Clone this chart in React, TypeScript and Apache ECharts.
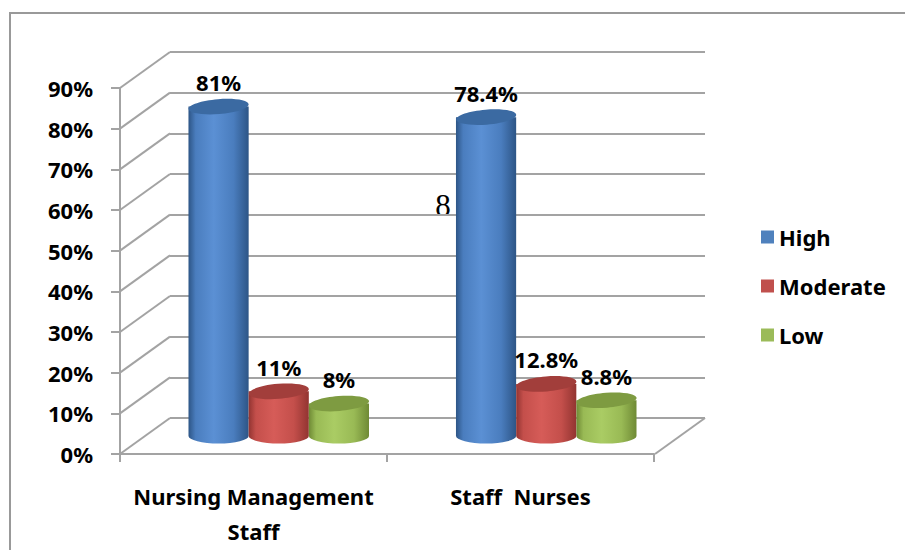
import React, { useEffect, useRef } from "react";
import * as echarts from "echarts";

const categories = ["Nursing Management\nStaff", "Staff  Nurses"];
const seriesNames = ["High", "Moderate", "Low"];
const highValues = [81, 78.4];
const moderateValues = [11, 12.8];
const lowValues = [8, 8.8];
const yTicks = [0, 10, 20, 30, 40, 50, 60, 70, 80, 90];

const seriesValues = [highValues, moderateValues, lowValues];

const palettes = [
  { base: "#4F81BD", light: "#5B90D4", mid: "#4A7DBE", dark: "#2D5586", top: "#3B6AA2" },
  { base: "#C0504D", light: "#D65C58", mid: "#C44F4B", dark: "#923431", top: "#A23E3B" },
  { base: "#9BBB59", light: "#AACC64", mid: "#99BA55", dark: "#6F8A35", top: "#7E9B41" },
];

const FONT = '"Noto Sans", sans-serif';
const FS = 22;
const GRID_COLOR = "#a3a3a3";
const DX = 25;
const DY = 18;

function makeCylinder(si: number) {
  return (params: any, api: any) => {
    const cat = api.value(0);
    const v = api.value(1);
    const top = api.coord([cat, v]);
    const base = api.coord([cat, 0]);
    const band = api.size([1, 0])[0];
    const w = band * 0.225;
    const rx = w / 2;
    const ry = 7.5;
    const cx = top[0] + (si - 1) * w;
    const yt = top[1];
    const yb = base[1];
    const pal = palettes[si];
    const grad = new echarts.graphic.LinearGradient(0, 0, 1, 0, [
      { offset: 0, color: pal.dark },
      { offset: 0.12, color: pal.mid },
      { offset: 0.42, color: pal.light },
      { offset: 0.75, color: pal.mid },
      { offset: 1, color: pal.dark },
    ]);
    return {
      type: "group",
      children: [
        {
          type: "path",
          shape: {
            pathData: `M${cx - rx},${yt} L${cx - rx},${yb} A${rx},${ry} 0 0 0 ${cx + rx},${yb} L${cx + rx},${yt} Z`,
          },
          style: { fill: grad },
        },
        {
          type: "ellipse",
          shape: { cx, cy: yt, rx, ry },
          rotation: 0.08,
          originX: cx,
          originY: yt,
          style: { fill: pal.top },
        },
        {
          type: "text",
          x: cx,
          y: yt - ry - 6,
          style: {
            text: `${v}%`,
            fontSize: FS,
            fontWeight: "bold",
            fontFamily: FONT,
            fill: "#000",
            align: "center",
            verticalAlign: "bottom",
          },
        },
      ],
    };
  };
}

export default function App() {
  const ref = useRef<HTMLDivElement>(null);
  useEffect(() => {
    if (!ref.current) return;
    const chart = echarts.init(ref.current, null, { renderer: "svg" });
    const lineStyle = { color: GRID_COLOR, width: 2 };
    const option: any = {
      animation: false,
      backgroundColor: "#fff",
      grid: [
        { left: 145, right: 225, top: 70, bottom: 114 },
        { left: 170, right: 200, top: 52, bottom: 132 },
        { left: 120, right: 251, top: 88, bottom: 96 },
      ],
      xAxis: [
        { type: "category", gridIndex: 0, data: categories, show: false },
        {
          type: "category",
          gridIndex: 1,
          data: categories,
          axisLine: { show: false },
          axisTick: { show: false },
          axisLabel: { show: false },
        },
        {
          type: "category",
          gridIndex: 2,
          data: categories,
          boundaryGap: true,
          axisLine: { show: true, lineStyle },
          axisTick: { show: true, length: 8, lineStyle },
          axisLabel: {
            interval: 0,
            fontSize: FS,
            fontWeight: "bold",
            fontFamily: FONT,
            color: "#000",
            margin: 24,
            lineHeight: 35,
          },
        },
      ],
      yAxis: [
        { type: "value", gridIndex: 0, min: 0, max: 90, interval: 10, show: false },
        {
          type: "value",
          gridIndex: 1,
          min: 0,
          max: 90,
          interval: 10,
          axisLine: { show: false },
          axisTick: { show: false },
          axisLabel: { show: false },
          splitLine: { show: true, lineStyle },
        },
        {
          type: "value",
          gridIndex: 2,
          min: 0,
          max: 90,
          interval: 10,
          axisLine: { show: true, lineStyle },
          axisTick: { show: true, length: 9, lineStyle },
          splitLine: { show: false },
          axisLabel: {
            formatter: "{value}%",
            fontSize: FS,
            fontWeight: "bold",
            fontFamily: FONT,
            color: "#000",
            margin: 27,
          },
        },
      ],
      legend: {
        data: seriesNames,
        orient: "vertical",
        left: 761,
        top: 226,
        padding: 0,
        itemWidth: 13,
        itemHeight: 13,
        itemGap: 27,
        icon: "rect",
        textStyle: {
          fontSize: FS,
          fontWeight: "bold",
          fontFamily: FONT,
          color: "#000",
          lineHeight: 22,
        },
      },
      series: [
        {
          type: "custom",
          xAxisIndex: 0,
          yAxisIndex: 0,
          silent: true,
          z: 1,
          data: yTicks.map((t) => [0, t]),
          renderItem: (params: any, api: any) => {
            const cs = params.coordSys;
            const y = api.coord([0, api.value(1)])[1];
            const st = { stroke: GRID_COLOR, lineWidth: 2 };
            const children: any[] = [
              { type: "line", shape: { x1: cs.x - DX, y1: y + DY, x2: cs.x + DX, y2: y - DY }, style: st },
            ];
            if (api.value(1) === 0) {
              children.push({
                type: "line",
                shape: { x1: cs.x + cs.width - DX, y1: y + DY, x2: cs.x + cs.width + DX, y2: y - DY },
                style: st,
              });
            }
            return { type: "group", children };
          },
        },
        ...seriesNames.map((name, si) => ({
          name,
          type: "custom",
          xAxisIndex: 0,
          yAxisIndex: 0,
          z: 3,
          itemStyle: { color: palettes[si].base },
          data: seriesValues[si].map((v, i) => [i, v]),
          renderItem: makeCylinder(si),
        })),
      ],
      graphic: [
        {
          type: "rect",
          shape: { x: 10, y: 13, width: 1200, height: 1000 },
          style: { fill: "none", stroke: "#999", lineWidth: 2 },
          silent: true,
        },
        {
          type: "text",
          x: 443,
          y: 205,
          style: {
            text: "8",
            fontSize: 31,
            fontFamily: '"Liberation Serif", serif',
            fill: "#000",
            align: "center",
            verticalAlign: "middle",
          },
        },
      ],
    };
    chart.setOption(option);
    return () => chart.dispose();
  }, []);
  return (
    <div
      ref={ref}
      style={{ position: "fixed", left: 0, top: 0, width: 905, height: 550 }}
    />
  );
}
